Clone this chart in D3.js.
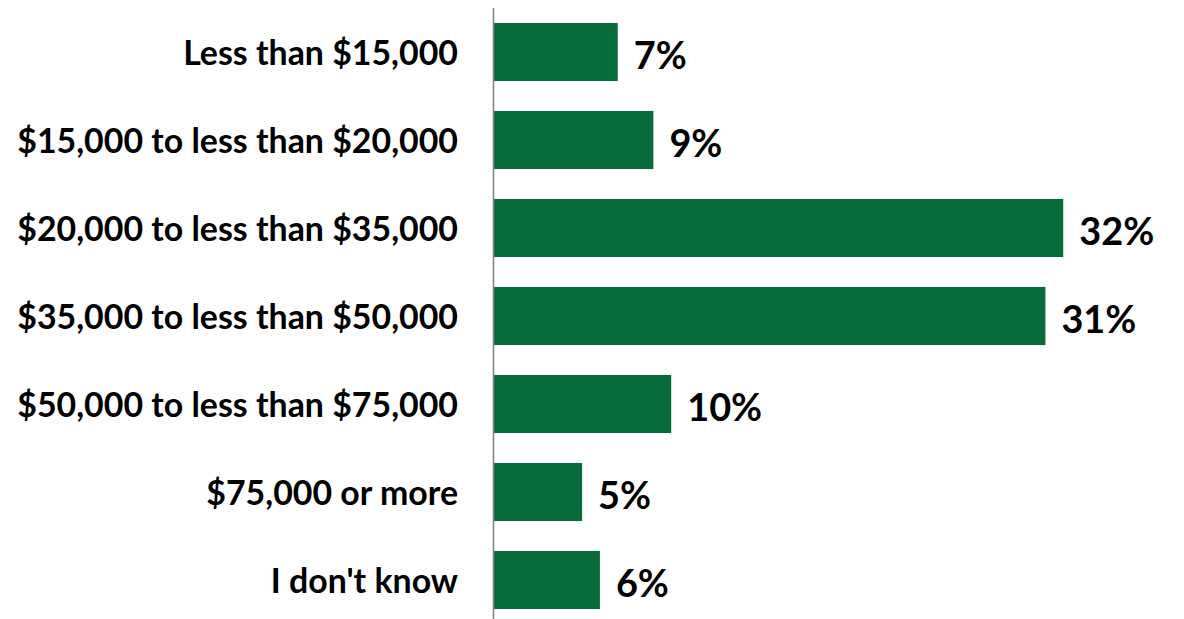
<!DOCTYPE html>
<html>
<head>
<meta charset="utf-8">
<script src="https://cdn.jsdelivr.net/npm/d3@7/dist/d3.min.js"></script>
<style>
  html, body { margin: 0; padding: 0; background: #fff; }
  svg { display: block; }
  text { font-family: Lato, "Open Sans", sans-serif; font-weight: 700; fill: #000; }
</style>
</head>
<body>
<svg id="chart" width="1184" height="619"></svg>
<script>
// Household income brackets and share of respondents
const categories = [
  "Less than $15,000",
  "$15,000 to less than $20,000",
  "$20,000 to less than $35,000",
  "$35,000 to less than $50,000",
  "$50,000 to less than $75,000",
  "$75,000 or more",
  "I don't know"
];
const shares = [0.07, 0.09, 0.32, 0.31, 0.10, 0.05, 0.06];
const shareLabels = ["7%", "9%", "32%", "31%", "10%", "5%", "6%"];

const svg = d3.select("#chart");
const axisX = 493;

const y = d3.scaleBand()
  .domain(categories)
  .range([8, 624])
  .paddingInner(0.34)
  .paddingOuter(0.17);

const x = d3.scaleLinear()
  .domain([0, 1])
  .range([axisX, axisX + 1782]);

const rows = categories.map((c, i) => ({ cat: c, v: shares[i], label: shareLabels[i] }));

// bars
svg.append("g").selectAll("rect")
  .data(rows)
  .join("rect")
  .attr("x", x(0))
  .attr("y", d => y(d.cat))
  .attr("width", d => x(d.v) - x(0))
  .attr("height", y.bandwidth())
  .attr("fill", "#076b3a");

// vertical category axis line
svg.append("line")
  .attr("x1", axisX + 0.5).attr("x2", axisX + 0.5)
  .attr("y1", 8).attr("y2", 624)
  .attr("stroke", "#7f7f7f")
  .attr("stroke-width", 1.5);

// category labels, right aligned against the axis
const catLabels = svg.append("g").selectAll("text")
  .data(rows)
  .join("text")
  .attr("x", 458)
  .attr("y", d => y(d.cat) + y.bandwidth() / 2)
  .attr("text-anchor", "end")
  .attr("dominant-baseline", "central")
  .style("font-size", "28px")
  .text(d => d.cat);

// size the category font so the longest label spans the available width
let maxW = 0;
catLabels.each(function () { maxW = Math.max(maxW, this.getComputedTextLength()); });
catLabels.style("font-size", (28 * 441 / maxW) + "px");

// value labels at bar ends
const valLabels = svg.append("g").selectAll("text")
  .data(rows)
  .join("text")
  .attr("x", d => x(d.v) + 16)
  .attr("y", d => y(d.cat) + y.bandwidth() / 2 + 2)
  .attr("dominant-baseline", "central")
  .style("font-size", "34px")
  .text(d => d.label);

let w32 = 0;
valLabels.filter(d => d.label === "32%").each(function () { w32 = this.getComputedTextLength(); });
valLabels.style("font-size", (34 * 75 / w32) + "px");
</script>
</body>
</html>
